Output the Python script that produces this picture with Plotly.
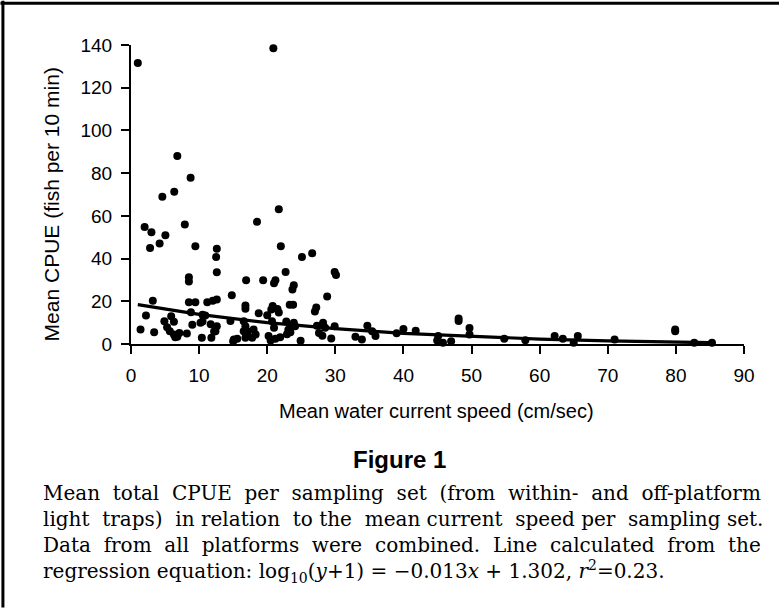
import plotly.graph_objects as go

# ---- data ----
speed = [1.0, 20.9, 6.8, 8.75, 6.35, 4.6, 21.7, 18.5, 7.9, 2.0,
         3.0, 5.05, 2.8, 4.2, 9.45, 22.0, 12.6, 12.5, 25.1, 26.6,
         12.6, 22.7, 29.9, 30.1, 8.5, 8.5, 16.9, 19.4, 21.2, 21.0,
         23.9, 23.7, 28.8, 14.8, 3.2, 8.5, 9.45, 11.2, 12.0, 12.6,
         16.8, 16.8, 20.8, 20.6, 21.5, 21.7, 23.3, 23.8, 27.2, 27.0,
         18.75, 20.0, 8.8, 2.2, 5.9, 10.5, 10.9, 6.3, 4.9, 1.4,
         3.4, 5.3, 5.7, 6.3, 6.8, 7.1, 6.5, 8.2, 9.0, 10.2,
         10.5, 10.4, 11.8, 11.7, 12.2, 12.6, 12.4, 14.6, 15.1, 15.6,
         16.55, 16.8, 16.55, 17.05, 17.1, 16.8, 18.0, 18.3, 17.8, 20.7,
         21.0, 20.5, 21.2, 21.9, 24.9, 22.8, 23.9, 23.1, 23.5, 24.1,
         23.4, 22.9, 27.3, 28.2, 28.5, 27.6, 28.1, 29.9, 29.4, 34.7,
         32.95, 33.9, 35.9, 35.4, 39.0, 40.0, 41.8, 45.1, 44.95, 45.8,
         47.0, 48.1, 48.1, 49.7, 49.7, 54.8, 57.9, 62.2, 63.4, 65.0,
         65.6, 71.0, 79.9, 79.9, 82.7, 85.3, 20.2, 15.0]
cpue = [131.6, 138.5, 88.0, 77.8, 71.3, 68.9, 63.1, 57.2, 56.0, 54.8,
        52.3, 50.9, 45.0, 47.0, 45.8, 45.8, 44.6, 40.7, 40.7, 42.5,
        33.6, 33.7, 33.7, 32.3, 31.3, 29.3, 29.8, 29.8, 29.9, 28.5,
        27.5, 25.5, 22.2, 22.8, 20.2, 19.6, 19.6, 19.6, 20.3, 20.8,
        18.0, 16.5, 17.8, 16.2, 16.4, 14.7, 18.4, 18.4, 17.1, 15.2,
        14.4, 13.5, 14.9, 13.3, 13.0, 13.7, 13.3, 10.4, 10.7, 6.8,
        5.5, 7.9, 6.0, 4.4, 3.4, 5.2, 3.2, 4.9, 9.0, 10.0,
        10.5, 2.9, 2.9, 9.2, 5.8, 8.3, 6.0, 10.8, 2.1, 2.4,
        10.7, 8.3, 6.0, 6.0, 4.8, 2.9, 6.8, 4.4, 2.9, 10.7,
        7.6, 1.6, 2.4, 3.2, 1.5, 10.5, 10.0, 6.7, 8.5, 8.3,
        5.5, 4.6, 8.6, 9.9, 7.6, 5.2, 3.9, 8.3, 2.6, 8.6,
        3.4, 2.1, 3.7, 6.0, 5.0, 7.0, 6.2, 3.7, 1.6, 0.6,
        1.3, 11.9, 10.8, 7.5, 4.4, 2.4, 1.8, 3.7, 2.4, 0.6,
        3.7, 2.1, 6.8, 6.0, 0.6, 0.6, 3.7, 1.3]

# regression line
line_x = [1, 10, 20, 30, 40, 50, 60, 70, 80, 85]
line_y = [18.4, 13.9, 10.0, 7.2, 5.0, 3.5, 2.3, 1.5, 0.8, 0.6]

x_ticks = [0, 10, 20, 30, 40, 50, 60, 70, 80, 90]
y_ticks = [0, 20, 40, 60, 80, 100, 120, 140]

caption_lines = [
    "Mean total CPUE per sampling set (from within- and off-platform",
    "light traps) in relation to the mean current speed per sampling set.",
    "Data from all platforms were combined. Line calculated from the",
    "regression equation: log<sub>10</sub>(<i>y</i>+1) = \u22120.013<i>x</i> + 1.302, <i>r</i><sup>2</sup>=0.23.",
]
# extra (non-breaking) spaces per line to imitate the justified caption
extra_space = [1, 0.5, 1, 0]


def justify(text, frac):
    if frac <= 0:
        return text
    words = text.split(" ")
    gaps = len(words) - 1
    n = round(gaps * frac)
    out = words[0]
    step = gaps / n if n else 0
    picks = set(int(i * step) for i in range(n)) if n else set()
    for i, w in enumerate(words[1:]):
        out += ("\u00a0 " if i in picks else " ") + w
    return out


# ---- layout geometry (pixels) ----
W, H = 779, 609
L, R, T, B = 130.6, 743.7, 44.5, 344.5


def px(xp):
    return (xp - L) / (R - L)


def py(yp):
    return (B - yp) / (B - T)


sans = "Liberation Sans, Arial, Helvetica, sans-serif"
serif = "DejaVu Serif, serif"

fig = go.Figure()
fig.add_trace(go.Scatter(
    x=line_x, y=line_y, mode="lines",
    line=dict(color="black", width=3.2), cliponaxis=False, hoverinfo="skip"))
fig.add_trace(go.Scatter(
    x=speed, y=cpue, mode="markers",
    marker=dict(color="black", size=8, line=dict(width=0)),
    cliponaxis=False))

fig.update_layout(
    width=W, height=H,
    margin=dict(l=L, r=W - R, t=T, b=H - B, pad=0),
    paper_bgcolor="white", plot_bgcolor="white",
    showlegend=False,
    font=dict(family=sans, color="black", size=19),
)
fig.update_xaxes(
    range=[0, 90], tickvals=x_ticks, ticktext=[str(v) for v in x_ticks],
    showline=True, linecolor="black", linewidth=2,
    ticks="outside", ticklen=8, tickwidth=2, tickcolor="black",
    showgrid=False, zeroline=False, ticklabelstandoff=5,
    tickfont=dict(family=sans, size=19, color="black"),
)
fig.update_yaxes(
    range=[0, 140], tickvals=y_ticks, ticktext=[str(v) for v in y_ticks],
    showline=True, linecolor="black", linewidth=2,
    ticks="outside", ticklen=8, tickwidth=2, tickcolor="black",
    showgrid=False, zeroline=False, ticklabelstandoff=5,
    tickfont=dict(family=sans, size=19, color="black"),
)

ann = []
ann.append(dict(text="Mean CPUE (fish per 10 min)", textangle=-90,
                x=px(52), y=py(204), xref="paper", yref="paper",
                xanchor="center", yanchor="middle", showarrow=False,
                font=dict(family=sans, size=21, color="black")))
ann.append(dict(text="Mean water current speed (cm/sec)",
                x=px(436), y=py(411.6), xref="paper", yref="paper",
                xanchor="center", yanchor="middle", showarrow=False,
                font=dict(family=sans, size=20, color="black")))
ann.append(dict(text="<b>Figure 1</b>",
                x=px(399), y=py(460.5), xref="paper", yref="paper",
                xanchor="center", yanchor="middle", showarrow=False,
                font=dict(family=sans, size=24, color="black")))
for txt, frac, yc in zip(caption_lines, extra_space, [493.5, 520, 546.5, 573]):
    ann.append(dict(text=justify(txt, frac), x=px(40.7), y=py(yc),
                    xref="paper", yref="paper",
                    xanchor="left", yanchor="middle", showarrow=False,
                    font=dict(family=serif, size=20, color="black")))
fig.update_layout(annotations=ann)

# frame lines (top and left)
fig.add_shape(type="line", xref="paper", yref="paper",
              x0=px(0), x1=px(W), y0=py(2.5), y1=py(2.5),
              line=dict(color="black", width=3))
fig.add_shape(type="line", xref="paper", yref="paper",
              x0=px(2.5), x1=px(2.5), y0=py(0), y1=py(H),
              line=dict(color="black", width=3))

fig.write_html(
    "out.html",
    config={"displayModeBar": False},
    post_script="document.body.style.margin='0';document.body.style.overflow='hidden';",
)
